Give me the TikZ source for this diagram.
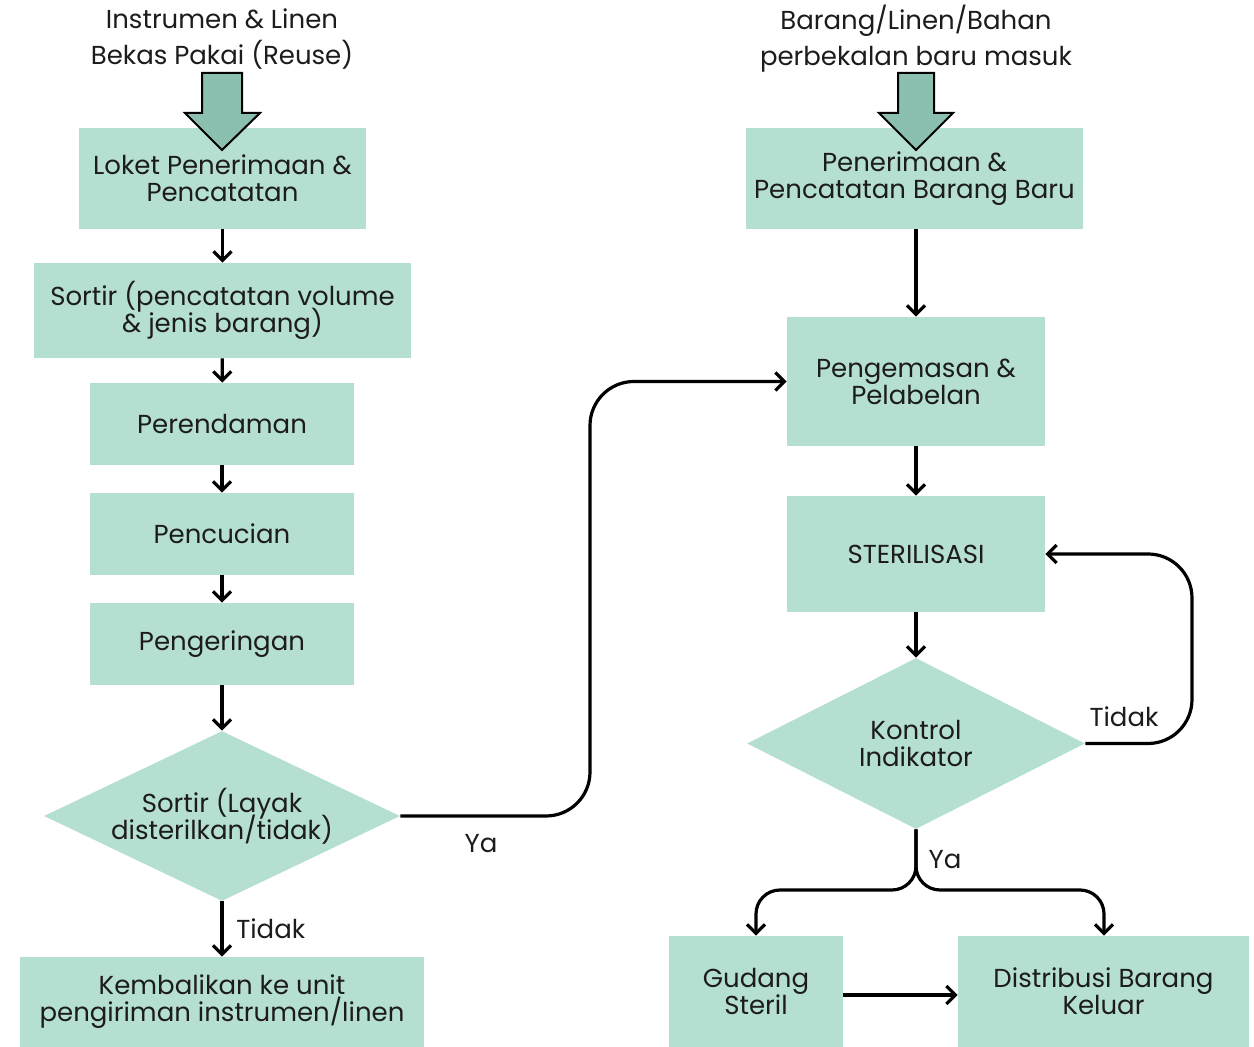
\documentclass[tikz,border=0pt]{standalone}
\usepackage{fontspec}
\setmainfont{Poppins}
\usetikzlibrary{shapes.geometric,arrows.meta}
\setlength{\lineskiplimit}{-20pt}

\definecolor{boxfill}{RGB}{181,223,209}
\definecolor{bigarrow}{RGB}{139,191,176}
\definecolor{txt}{RGB}{28,28,28}

\tikzset{
  stepbox/.style={fill=boxfill, align=center, inner sep=0pt, text=txt,
    font=\fontsize{13}{13.5}\selectfont},
  decision/.style={diamond, aspect=2.1, fill=boxfill, align=center, inner sep=0pt, text=txt,
    font=\fontsize{13}{13.5}\selectfont},
  flow/.style={-{Straight Barb[length=4.5pt,width=9pt]}, line width=1.6pt},
  lbl/.style={text=txt, font=\fontsize{13}{18}\selectfont, align=center},
  bigin/.style={fill=bigarrow, draw=black, line width=1pt, line join=miter}
}

\begin{document}
\begin{tikzpicture}[x=0.5pt,y=-0.5pt]
  \useasboundingbox (0,0) rectangle (1254,1047);

  % left column
  \node[lbl] (inA) at (222,39) {Instrumen \& Linen\\Bekas Pakai (Reuse)};
  \node[stepbox, minimum width=143.5pt, minimum height=50.5pt] (loket) at (222.5,178.5) {Loket Penerimaan \&\\Pencatatan};
  \node[stepbox, minimum width=188.5pt, minimum height=47.5pt] (sortir) at (222.5,310.5) {Sortir (pencatatan volume\\\& jenis barang)};
  \node[stepbox, minimum width=132pt, minimum height=41pt] (rendam) at (222,424) {Perendaman};
  \node[stepbox, minimum width=132pt, minimum height=41pt] (cuci) at (222,534) {Pencucian};
  \node[stepbox, minimum width=132pt, minimum height=41pt] (kering) at (222,644) {Pengeringan};
  \node[decision, minimum width=178pt, minimum height=85pt] (layak) at (222,816) {Sortir (Layak\\disterilkan/tidak)};
  \node[stepbox, minimum width=202pt, minimum height=45pt] (kembali) at (222,1002) {Kembalikan ke unit\\pengiriman instrumen/linen};

  % right column
  \node[lbl] (inB) at (916,39) {Barang/Linen/Bahan\\perbekalan baru masuk};
  \node[stepbox, minimum width=168.5pt, minimum height=50.5pt] (terima) at (914.5,178.5) {Penerimaan \&\\Pencatatan Barang Baru};
  \node[stepbox, minimum width=129pt, minimum height=64.5pt] (kemas) at (916,381.5) {Pengemasan \&\\Pelabelan};
  \node[stepbox, minimum width=129pt, minimum height=58pt] (steril) at (916,554) {STERILISASI};
  \node[decision, minimum width=169pt, minimum height=85.5pt] (kontrol) at (916,743.5) {Kontrol\\Indikator};
  \node[stepbox, minimum width=87pt, minimum height=55.5pt] (gudang) at (756,991.5) {Gudang\\Steril};
  \node[stepbox, minimum width=145.5pt, minimum height=55.5pt] (distribusi) at (1103.5,991.5) {Distribusi Barang\\Keluar};

  % big entry arrows
  \draw[bigin] (202,73) -- (242,73) -- (242,113) -- (260,113) -- (222,150)
    -- (185,113) -- (202,113) -- cycle;
  \draw[bigin] (898,73) -- (934,73) -- (934,113) -- (953,113) -- (916,150)
    -- (879,113) -- (898,113) -- cycle;

  % connectors
  \draw[flow] (loket) -- (sortir);
  \draw[flow] (sortir) -- (rendam);
  \draw[flow] (rendam) -- (cuci);
  \draw[flow] (cuci) -- (kering);
  \draw[flow] (kering) -- (layak);
  \draw[flow] (layak) -- (kembali) node[lbl, midway, right=3pt] {Tidak};
  \draw[flow, rounded corners=22pt] (layak.east) -- (590,816) -- (590,381.5) -- (kemas.west);
  \node[lbl] (ya1) at (481,844) {Ya};

  \draw[flow] (terima.south -| kemas) -- (kemas);
  \draw[flow] (kemas) -- (steril);
  \draw[flow] (steril) -- (kontrol);
  \draw[flow, rounded corners=22pt] (kontrol.east) -- (1192,743.5) -- (1192,554) -- (steril.east);
  \node[lbl] (tidak2) at (1124,717) {Tidak};
  \draw[flow, rounded corners=12pt] (kontrol.south) -- (916,890) -- (756,890) -- (gudang.north);
  \draw[flow, rounded corners=12pt] (kontrol.south) -- (916,890) -- (1104,890) -- (distribusi.north -| 1104,0);
  \node[lbl] (ya2) at (945,860) {Ya};
  \draw[flow] ([yshift=-1.75pt]gudang.east) -- ([yshift=-1.75pt]distribusi.west);
\end{tikzpicture}
\end{document}
